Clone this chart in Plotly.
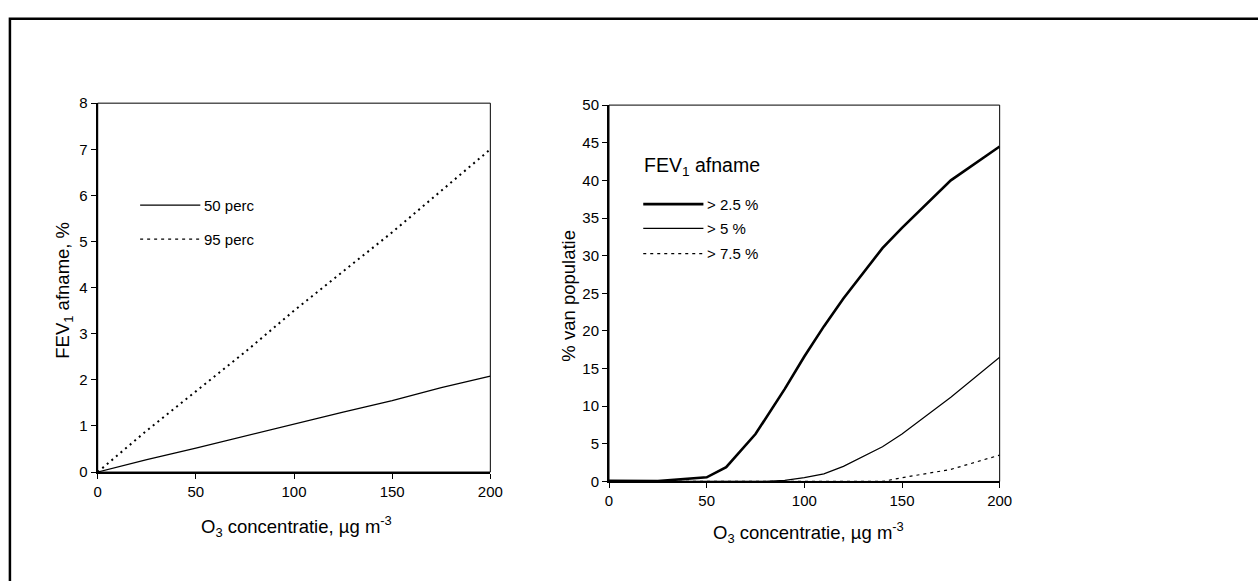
import plotly.graph_objects as go

# ---- data: left chart (FEV1 decline, %) ----
x_left = [0, 25, 50, 75, 100, 125, 150, 175, 200]
p50 = [0, 0.27, 0.52, 0.78, 1.05, 1.30, 1.55, 1.83, 2.08]
p95 = [0, 0.90, 1.75, 2.60, 3.50, 4.35, 5.20, 6.10, 7.00]
left_names = ["50 perc", "95 perc"]

# ---- data: right chart (% of population) ----
x_right = [0, 10, 25, 50, 60, 75, 80, 90, 100, 110, 120, 140, 150, 175, 200]
gt25 = [0.1, 0.05, 0.05, 0.55, 1.9, 6.3, 8.3, 12.3, 16.6, 20.6, 24.3, 31.0, 33.7, 40.0, 44.5]
gt5 = [0, 0, 0, 0, 0, 0, 0, 0.15, 0.5, 1.0, 2.0, 4.6, 6.3, 11.2, 16.5]
gt75 = [0, 0, 0, 0, 0, 0, 0, 0, 0, 0, 0, 0, 0.5, 1.6, 3.5]
right_names = ["> 2.5 %", "> 5 %", "> 7.5 %"]

x_ticks = [0, 50, 100, 150, 200]
y_ticks_left = [0, 1, 2, 3, 4, 5, 6, 7, 8]
y_ticks_right = [0, 5, 10, 15, 20, 25, 30, 35, 40, 45, 50]

FONT = "Liberation Sans, Arial, sans-serif"
W, H = 1258, 581

def px(x):
    return x / W

def py(y):
    return 1 - y / H

fig = go.Figure()

fig.add_trace(go.Scatter(x=x_left, y=p50, mode="lines", name=left_names[0],
                         line=dict(color="black", width=1.2), xaxis="x", yaxis="y",
                         showlegend=False))
fig.add_trace(go.Scatter(x=x_left, y=p95, mode="lines", name=left_names[1],
                         line=dict(color="black", width=2, dash="2px,4px"), xaxis="x", yaxis="y",
                         showlegend=False))

fig.add_trace(go.Scatter(x=x_right, y=gt75, mode="lines", name=right_names[2],
                         line=dict(color="black", width=1.2, dash="3px,4px"), xaxis="x2", yaxis="y2",
                         showlegend=False))
fig.add_trace(go.Scatter(x=x_right, y=gt5, mode="lines", name=right_names[1],
                         line=dict(color="black", width=1.2), xaxis="x2", yaxis="y2",
                         showlegend=False))
fig.add_trace(go.Scatter(x=x_right, y=gt25, mode="lines", name=right_names[0],
                         line=dict(color="black", width=2.6), xaxis="x2", yaxis="y2",
                         showlegend=False))

axis_common = dict(showgrid=False, zeroline=False, showline=True, linecolor="black",
                   linewidth=2, ticks="outside", ticklen=5, tickcolor="black", tickwidth=1,
                   tickfont=dict(family=FONT, size=15, color="black"))

# inside tick marks on the x axes so the ticks cross the axis line
inner_x = dict(showgrid=False, zeroline=False, showline=False, ticks="inside", ticklen=5,
               tickcolor="black", tickwidth=1, showticklabels=False, range=[0, 200],
               tickvals=x_ticks)

fig.update_layout(
    width=W, height=H,
    margin=dict(l=0, r=0, t=0, b=0),
    paper_bgcolor="white", plot_bgcolor="white",
    showlegend=False,
    xaxis=dict(domain=[px(95), px(493)], range=[0, 200], tickvals=x_ticks, anchor="y", **axis_common),
    yaxis=dict(domain=[py(477), py(97)], range=[0, 8], tickvals=y_ticks_left, anchor="x", **axis_common),
    xaxis2=dict(domain=[px(613.3), px(1009.3)], range=[0, 200], tickvals=x_ticks, anchor="y2", **axis_common),
    yaxis2=dict(domain=[py(486.7), py(99)], range=[0, 50], tickvals=y_ticks_right, anchor="x2", **axis_common),
    xaxis3=dict(overlaying="x", anchor="y", **inner_x),
    xaxis4=dict(overlaying="x2", anchor="y2", **inner_x),
)

shapes = []
# plot frames (top/right thin borders)
for xr, yr in [("x domain", "y domain"), ("x2 domain", "y2 domain")]:
    shapes.append(dict(type="rect", xref=xr, yref=yr, x0=0, x1=1, y0=0, y1=1,
                       line=dict(color="black", width=1)))
# outer frame
shapes.append(dict(type="rect", xref="paper", yref="paper", x0=px(6), x1=1.02, y0=-0.02, y1=py(10),
                   line=dict(color="black", width=2.5)))

# left legend samples
shapes.append(dict(type="line", xref="paper", yref="paper", x0=px(138), x1=px(199),
                   y0=py(202), y1=py(202), line=dict(color="black", width=1.2)))
shapes.append(dict(type="line", xref="paper", yref="paper", x0=px(138), x1=px(199),
                   y0=py(237), y1=py(237), line=dict(color="black", width=1.2, dash="3px,4px")))
# right legend samples
shapes.append(dict(type="line", xref="paper", yref="paper", x0=px(648), x1=px(709),
                   y0=py(201), y1=py(201), line=dict(color="black", width=2.6)))
shapes.append(dict(type="line", xref="paper", yref="paper", x0=px(648), x1=px(709),
                   y0=py(226), y1=py(226), line=dict(color="black", width=1.2)))
shapes.append(dict(type="line", xref="paper", yref="paper", x0=px(648), x1=px(709),
                   y0=py(252), y1=py(252), line=dict(color="black", width=1.2, dash="3px,4px")))
fig.update_layout(shapes=shapes)

ann = []
def text(x, y, s, size, xanchor="left", angle=0):
    ann.append(dict(x=px(x), y=py(y), xref="paper", yref="paper", text=s, showarrow=False,
                    xanchor=xanchor, yanchor="middle", textangle=angle,
                    font=dict(family=FONT, size=size, color="black")))

xtitle = "O<sub>3</sub> concentratie, µg m<sup>-3</sup>"
text(297, 533, xtitle, 18.5, "center")
text(816, 539, xtitle, 18.5, "center")
text(60, 290, "FEV<sub>1</sub> afname, %", 18.5, "center", -90)
text(572, 295, "% van populatie", 18.5, "center", -90)

text(201, 202, left_names[0], 15)
text(201, 237, left_names[1], 15)
text(647, 162, "FEV<sub>1</sub> afname", 19.5)
text(711, 201, right_names[0], 15)
text(711, 226, right_names[1], 15)
text(711, 252, right_names[2], 15)
fig.update_layout(annotations=ann)

fig.write_html("out.html")
